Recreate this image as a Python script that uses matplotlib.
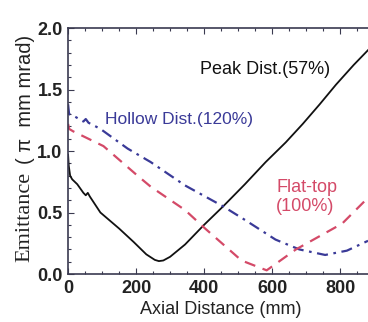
import matplotlib
matplotlib.use("Agg")
import matplotlib.pyplot as plt
from matplotlib.ticker import MultipleLocator

# Emittance along the beam line for three initial distributions
peak_x = [0, 2, 6, 12, 27, 45, 52, 58, 64, 95, 150, 193, 230, 255, 267, 280, 300,
          344, 400, 456, 520, 581, 640, 690, 740, 788, 840, 882]
peak_y = [0.97, 0.88, 0.80, 0.77, 0.73, 0.66, 0.64, 0.66, 0.63, 0.50, 0.37, 0.26,
          0.16, 0.115, 0.105, 0.11, 0.14, 0.24, 0.40, 0.55, 0.73, 0.91, 1.07,
          1.22, 1.38, 1.54, 1.70, 1.82]

hollow_x = [0, 3, 20, 45, 52, 60, 95, 175, 243, 344, 456, 520, 610, 680, 756, 820, 882]
hollow_y = [1.38, 1.30, 1.28, 1.24, 1.26, 1.23, 1.18, 1.02, 0.91, 0.72, 0.55,
            0.44, 0.28, 0.20, 0.155, 0.19, 0.27]

flat_x = [0, 3, 15, 104, 204, 243, 344, 403, 510, 584, 670, 806, 882]
flat_y = [1.22, 1.18, 1.16, 1.04, 0.80, 0.71, 0.52, 0.37, 0.11, 0.03, 0.20, 0.41, 0.62]

x_ticks = [0, 200, 400, 600, 800]
y_ticks = [0.0, 0.5, 1.0, 1.5, 2.0]

c_black = "#111111"
c_blue = "#3a3a98"
c_red = "#d44a68"
c_axis = "#3a3a50"
c_text = "#222222"

plt.rcParams["font.family"] = ["Liberation Sans", "DejaVu Sans"]

fig = plt.figure(figsize=(3.68, 3.22), dpi=100)
ax = fig.add_axes([0.185, 0.149, 0.815, 0.764])

ax.plot(peak_x, peak_y, color=c_black, lw=1.3, solid_joinstyle="round")
ax.plot(hollow_x, hollow_y, color=c_blue, lw=1.6, dashes=(5, 2.5, 1.2, 2.5))
ax.plot(flat_x, flat_y, color=c_red, lw=1.6, dashes=(5, 3.5))

ax.set_xlim(0, 882)
ax.set_ylim(0, 2.0)
ax.set_xticks(x_ticks)
ax.set_yticks(y_ticks)
ax.set_yticklabels([f"{v:.1f}" for v in y_ticks])
ax.xaxis.set_minor_locator(MultipleLocator(50))
ax.yaxis.set_minor_locator(MultipleLocator(0.1))
ax.tick_params(which="both", direction="in", top=True, right=False,
               color=c_axis, width=0.8)
ax.tick_params(which="major", length=4, labelsize=13, labelcolor=c_text)
ax.tick_params(axis="x", which="major", pad=4.5)
ax.tick_params(axis="y", which="major", pad=4)
ax.tick_params(which="minor", length=2)
for lab in ax.get_xticklabels() + ax.get_yticklabels():
    lab.set_fontweight("bold")
for side in ("left", "bottom", "top"):
    ax.spines[side].set_color(c_axis)
    ax.spines[side].set_linewidth(1.2)
ax.spines["right"].set_visible(False)

ax.set_xlabel("Axial Distance (mm)", fontsize=13, color=c_text, va="center")
ax.xaxis.set_label_coords(0.51, -0.146)

# y label: serif word followed by the unit in sans
fig.text(0.068, 0.326, "Emittance", rotation=90, ha="center", va="center",
         fontsize=16, family="Liberation Serif", color=c_text)
fig.text(0.068, 0.69, "( \u03c0  mm mrad)", rotation=90, ha="center", va="center",
         fontsize=14.5, color=c_text)

ax.text(579, 1.66, "Peak Dist.(57%)", ha="center", va="center",
        fontsize=13, color=c_black)
ax.text(109, 1.26, "Hollow Dist.(120%)", ha="left", va="center",
        fontsize=12.5, color=c_blue)
ax.text(612, 0.63, "Flat-top\n(100%)", ha="left", va="center",
        fontsize=13, color=c_red, linespacing=1.15)

fig.savefig("out.png", dpi=100)
